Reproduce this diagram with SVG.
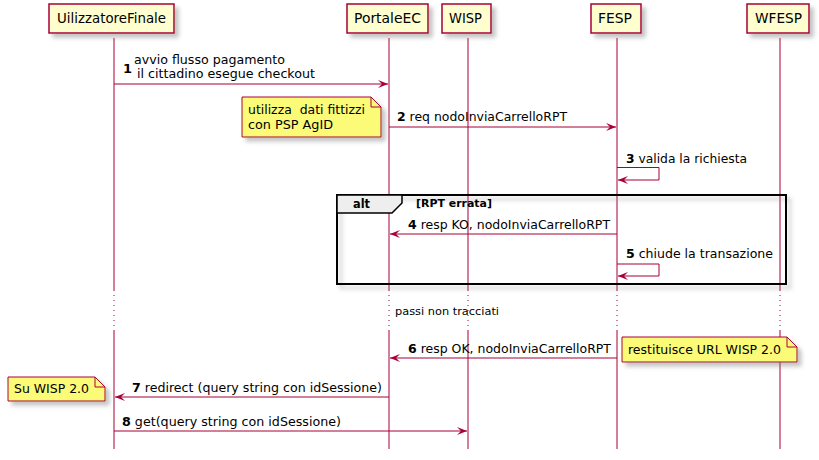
<svg xmlns="http://www.w3.org/2000/svg" width="819" height="460" viewBox="0 0 819 460">
<defs>
<filter id="sh" x="-10%" y="-10%" width="130%" height="150%">
<feGaussianBlur in="SourceAlpha" stdDeviation="2" result="b"/>
<feOffset in="b" dx="4" dy="4" result="o"/>
<feColorMatrix in="o" type="matrix" values="0 0 0 0 0.2  0 0 0 0 0.2  0 0 0 0 0.2  0 0 0 0.45 0" result="c"/>
<feMerge><feMergeNode in="c"/><feMergeNode in="SourceGraphic"/></feMerge>
</filter>
<marker id="ah" viewBox="0 0 10 8" refX="10" refY="4" markerWidth="10" markerHeight="8" markerUnits="userSpaceOnUse" orient="auto">
<polygon points="0,0 10,4 0,8 4,4" fill="#A80036"/>
</marker>
</defs>
<style>
text{font-family:"DejaVu Sans",sans-serif;fill:#000}
.p{fill:#FEFECE;stroke:#A80036;stroke-width:1.5}
.pt{font-size:14px}
.ll{stroke:#A80036;stroke-width:1;fill:none}
.dot{stroke:#A80036;stroke-width:1;stroke-dasharray:1,4}
.m{stroke:#A80036;stroke-width:1;fill:none}
.mt{font-size:13px}
.n{font-weight:bold}
.note{fill:#FBFB77;stroke:#A80036;stroke-width:1}
.fold{fill:none;stroke:#A80036;stroke-width:1}
</style>
<g id="lifelines">
<line class="ll" x1="114" y1="38" x2="114" y2="290"/><line class="dot" x1="114" y1="290" x2="114" y2="330"/><line class="ll" x1="114" y1="330" x2="114" y2="449"/>
<line class="ll" x1="389" y1="38" x2="389" y2="290"/><line class="dot" x1="389" y1="290" x2="389" y2="330"/><line class="ll" x1="389" y1="330" x2="389" y2="449"/>
<line class="ll" x1="468" y1="38" x2="468" y2="290"/><line class="dot" x1="468" y1="290" x2="468" y2="330"/><line class="ll" x1="468" y1="330" x2="468" y2="449"/>
<line class="ll" x1="617" y1="38" x2="617" y2="290"/><line class="dot" x1="617" y1="290" x2="617" y2="330"/><line class="ll" x1="617" y1="330" x2="617" y2="449"/>
<line class="ll" x1="780" y1="38" x2="780" y2="290"/><line class="dot" x1="780" y1="290" x2="780" y2="330"/><line class="ll" x1="780" y1="330" x2="780" y2="449"/>
</g>
<g id="UilizzatoreFinale"><rect class="p" x="49" y="4" width="125" height="29" filter="url(#sh)"/><text class="pt" x="57" y="23" textLength="109" lengthAdjust="spacingAndGlyphs">UilizzatoreFinale</text></g>
<g id="PortaleEC"><rect class="p" x="347" y="4" width="81" height="29" filter="url(#sh)"/><text class="pt" x="354" y="23" textLength="67" lengthAdjust="spacingAndGlyphs">PortaleEC</text></g>
<g id="WISP"><rect class="p" x="442" y="4" width="49" height="29" filter="url(#sh)"/><text class="pt" x="449" y="23" textLength="33" lengthAdjust="spacingAndGlyphs">WISP</text></g>
<g id="FESP"><rect class="p" x="591" y="4" width="50" height="29" filter="url(#sh)"/><text class="pt" x="598" y="23" textLength="34" lengthAdjust="spacingAndGlyphs">FESP</text></g>
<g id="WFESP"><rect class="p" x="747" y="4" width="62" height="29" filter="url(#sh)"/><text class="pt" x="755" y="23" textLength="47" lengthAdjust="spacingAndGlyphs">WFESP</text></g>
<g id="alt">
<rect x="337" y="195" width="449" height="89" fill="none" stroke="#000" stroke-width="2" filter="url(#sh)"/>
<polygon points="337,195 402,195 402,203 392,213 337,213" fill="#EEEEEE" stroke="#000" stroke-width="1.5"/>
<text x="353" y="208" font-size="13" font-weight="bold" textLength="17" lengthAdjust="spacingAndGlyphs">alt</text>
<text x="416" y="207" font-size="11" font-weight="bold" textLength="76" lengthAdjust="spacingAndGlyphs">[RPT errata]</text>
</g>
<g id="connectors">
<line class="m" x1="114" y1="84" x2="388" y2="84" marker-end="url(#ah)"/>
<line class="m" x1="389" y1="127" x2="616" y2="127" marker-end="url(#ah)"/>
<polyline class="m" points="617,167.5 659,167.5 659,180 618,180" marker-end="url(#ah)"/>
<line class="m" x1="617" y1="234" x2="390" y2="234" marker-end="url(#ah)"/>
<polyline class="m" points="617,264 659,264 659,276 618,276" marker-end="url(#ah)"/>
<line class="m" x1="617" y1="358" x2="390" y2="358" marker-end="url(#ah)"/>
<line class="m" x1="389" y1="397" x2="115" y2="397" marker-end="url(#ah)"/>
<line class="m" x1="114" y1="431" x2="467" y2="431" marker-end="url(#ah)"/>
</g>
<g id="labels" class="mt">
<text x="123" y="73" class="mt n">1</text>
<text x="134" y="64" class="mt" textLength="151" lengthAdjust="spacingAndGlyphs">avvio flusso pagamento</text>
<text x="137" y="78" class="mt" textLength="178" lengthAdjust="spacingAndGlyphs">il cittadino esegue checkout</text>
<text x="397" y="121" class="mt" textLength="170" lengthAdjust="spacingAndGlyphs"><tspan class="n">2</tspan> req nodoInviaCarrelloRPT</text>
<text x="626" y="163" class="mt" textLength="121" lengthAdjust="spacingAndGlyphs"><tspan class="n">3</tspan> valida la richiesta</text>
<text x="408" y="229" class="mt" textLength="202" lengthAdjust="spacingAndGlyphs"><tspan class="n">4</tspan> resp KO, nodoInviaCarrelloRPT</text>
<text x="626" y="258" class="mt" textLength="147" lengthAdjust="spacingAndGlyphs"><tspan class="n">5</tspan> chiude la transazione</text>
<text x="395" y="315" font-size="11" textLength="104" lengthAdjust="spacingAndGlyphs">passi non tracciati</text>
<text x="408" y="353" class="mt" textLength="203" lengthAdjust="spacingAndGlyphs"><tspan class="n">6</tspan> resp OK, nodoInviaCarrelloRPT</text>
<text x="132" y="392" class="mt" textLength="250" lengthAdjust="spacingAndGlyphs"><tspan class="n">7</tspan> redirect (query string con idSessione)</text>
<text x="122" y="426" class="mt" textLength="219" lengthAdjust="spacingAndGlyphs"><tspan class="n">8</tspan> get(query string con idSessione)</text>
</g>
<g id="note1">
<path class="note" d="M242,97 L371,97 L381,107 L381,137 L242,137 Z" filter="url(#sh)"/>
<path class="fold" d="M371,97 L371,107 L381,107"/>
<text x="248" y="114" class="mt" xml:space="preserve" textLength="117" lengthAdjust="spacingAndGlyphs">utilizza  dati fittizzi</text>
<text x="248" y="129" class="mt" textLength="85" lengthAdjust="spacingAndGlyphs">con PSP AgID</text>
</g>
<g id="note2">
<path class="note" d="M622,337 L787,337 L797,347 L797,362 L622,362 Z" filter="url(#sh)"/>
<path class="fold" d="M787,337 L787,347 L797,347"/>
<text x="628" y="354" class="mt" textLength="153" lengthAdjust="spacingAndGlyphs">restituisce URL WISP 2.0</text>
</g>
<g id="note3">
<path class="note" d="M8,377 L95,377 L105,387 L105,401 L8,401 Z" filter="url(#sh)"/>
<path class="fold" d="M95,377 L95,387 L105,387"/>
<text x="14" y="393" class="mt" textLength="75" lengthAdjust="spacingAndGlyphs">Su WISP 2.0</text>
</g>
</svg>
